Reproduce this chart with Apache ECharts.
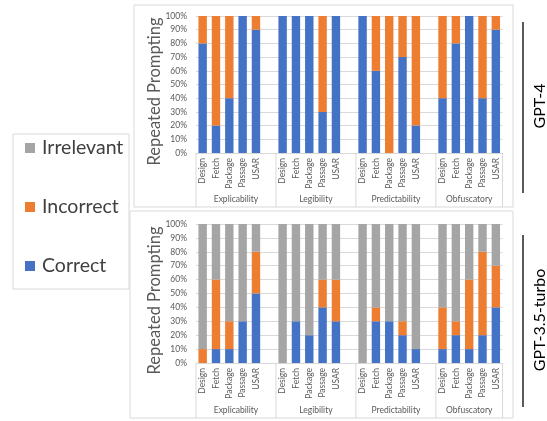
<!DOCTYPE html>
<html><head><meta charset="utf-8">
<script src="https://cdn.jsdelivr.net/npm/echarts@6/dist/echarts.min.js"></script>
<style>html,body{margin:0;padding:0;background:#fff}#c{width:547px;height:421px}</style>
</head><body><div id="c"></div>
<script>
const groups = ['Explicability', 'Legibility', 'Predictability', 'Obfuscatory'];
const items = ['Design', 'Fetch', 'Package', 'Passage', 'USAR'];
const models = ['GPT-4', 'GPT-3.5-turbo'];
const seriesNames = ['Correct', 'Incorrect', 'Irrelevant'];
// one blank slot between groups (null)
const gpt4Correct    = [80, 20, 40, 100, 90, null, 100, 100, 100, 30, 100, null, 100, 60, 0, 70, 20, null, 40, 80, 100, 40, 90];
const gpt4Incorrect  = [20, 80, 60, 0, 10, null, 0, 0, 0, 70, 0, null, 0, 40, 100, 30, 80, null, 60, 20, 0, 60, 10];
const gpt4Irrelevant = [0, 0, 0, 0, 0, null, 0, 0, 0, 0, 0, null, 0, 0, 0, 0, 0, null, 0, 0, 0, 0, 0];
const gpt35Correct    = [0, 10, 10, 30, 50, null, 0, 30, 20, 40, 30, null, 0, 30, 30, 20, 10, null, 10, 20, 10, 20, 40];
const gpt35Incorrect  = [10, 50, 20, 0, 30, null, 0, 0, 0, 20, 30, null, 0, 10, 0, 10, 0, null, 30, 10, 50, 60, 30];
const gpt35Irrelevant = [90, 40, 70, 70, 20, null, 100, 70, 80, 40, 40, null, 100, 60, 70, 70, 90, null, 60, 70, 40, 20, 30];

const colors = {Correct: '#4472C4', Incorrect: '#ED7D31', Irrelevant: '#A5A5A5'};
const FONT = 'Lato';

const categories = [];
groups.forEach((g, i) => {
  items.forEach(it => categories.push(it));
  if (i < groups.length - 1) categories.push('');
});

const panelData = [
  [gpt4Correct, gpt4Incorrect, gpt4Irrelevant],
  [gpt35Correct, gpt35Incorrect, gpt35Irrelevant]
];

const grids = [
  {left: 196, right: 44.5, top: 16, height: 137},
  {left: 196, right: 44.5, top: 224, height: 139}
];

const xAxes = grids.map((g, i) => ({
  type: 'category', gridIndex: i, data: categories,
  axisLine: {show: true, lineStyle: {color: '#d9d9d9'}},
  axisTick: {show: false},
  axisLabel: {rotate: 90, fontSize: 8.5, color: '#595959', fontFamily: FONT, margin: 5, interval: 0}
}));
const yAxes = grids.map((g, i) => ({
  type: 'value', gridIndex: i, min: 0, max: 100, interval: 10,
  axisLine: {show: false}, axisTick: {show: false},
  splitLine: {lineStyle: {color: '#d9d9d9'}},
  axisLabel: {formatter: '{value}%', fontSize: 8.5, color: '#595959', fontFamily: FONT, margin: 9}
}));

const series = [];
panelData.forEach((arrs, p) => {
  arrs.forEach((arr, k) => {
    series.push({
      name: seriesNames[k], type: 'bar', stack: 'p' + p,
      xAxisIndex: p, yAxisIndex: p, data: arr,
      barCategoryGap: '37%',
      itemStyle: {color: colors[seriesNames[k]]},
      emphasis: {disabled: true}
    });
  });
});

const chart = echarts.init(document.getElementById('c'));
chart.setOption({
  animation: false,
  backgroundColor: '#fff',
  grid: grids,
  xAxis: xAxes,
  yAxis: yAxes,
  legend: {
    data: ['Irrelevant', 'Incorrect', 'Correct'],
    orient: 'vertical', left: 20, top: 133,
    itemWidth: 10, itemHeight: 10, itemGap: 39, icon: 'rect',
    textStyle: {fontSize: 19.5, color: '#404040', fontFamily: FONT, padding: [0, 0, 0, 2]},
    selectedMode: false
  },
  series: series
});

// decorations computed from the axes
const graphic = [];
const panels = [[134, 5, 379, 202], [130, 211, 383, 207]];
panels.forEach(r => graphic.push({type: 'rect', shape: {x: r[0], y: r[1], width: r[2], height: r[3]},
  style: {fill: 'none', stroke: '#d9d9d9', lineWidth: 1}, silent: true}));
graphic.push({type: 'rect', shape: {x: 13, y: 134, width: 116, height: 155},
  style: {fill: 'none', stroke: '#d9d9d9', lineWidth: 1}, silent: true, z: -1});

const groupBounds = [];
let idx = 0;
groups.forEach((g, i) => {
  const n = items.length + (i < groups.length - 1 ? 1 : 0);
  groupBounds.push([idx, idx + n]);
  idx += n;
});

[0, 1].forEach(p => {
  const c0 = chart.convertToPixel({xAxisIndex: p}, 0);
  const c1 = chart.convertToPixel({xAxisIndex: p}, 1);
  const slot = c1 - c0;
  const edge = i => c0 - slot / 2 + i * slot;
  const y0 = chart.convertToPixel({yAxisIndex: p}, 0);
  const yEnd = panels[p][1] + panels[p][3];
  const yMid = (chart.convertToPixel({yAxisIndex: p}, 100) + y0) / 2;
  const bounds = [0].concat(groupBounds.map(b => b[1]));
  bounds.forEach(b => graphic.push({type: 'line', shape: {x1: edge(b), y1: y0, x2: edge(b), y2: yEnd},
    style: {stroke: '#d9d9d9', lineWidth: 1}, silent: true}));
  groupBounds.forEach((b, i) => graphic.push({type: 'text', x: (edge(b[0]) + edge(b[1])) / 2, y: yEnd - 8,
    style: {text: groups[i], fontSize: 8.5, fill: '#595959', fontFamily: FONT, align: 'center', verticalAlign: 'middle'}}));
  // y-axis title
  graphic.push({type: 'text', x: 155, y: yMid + 7, rotation: Math.PI / 2,
    style: {text: 'Repeated Prompting', fontSize: 16.5, fill: '#595959', fontFamily: FONT, align: 'center', verticalAlign: 'middle'}});
  // model label with line
  const lineTop = p === 0 ? 22 : 235, lineBot = p === 0 ? 193 : 407;
  graphic.push({type: 'line', shape: {x1: 523, y1: lineTop, x2: 523, y2: lineBot},
    style: {stroke: '#000', lineWidth: 1.3}, silent: true});
  graphic.push({type: 'text', x: 540, y: p === 0 ? 106 : 320, rotation: Math.PI / 2,
    style: {text: models[p], fontSize: 16, fill: '#000', fontFamily: FONT, align: 'center', verticalAlign: 'middle'}});
});

chart.setOption({graphic: graphic});
</script>
</body></html>
